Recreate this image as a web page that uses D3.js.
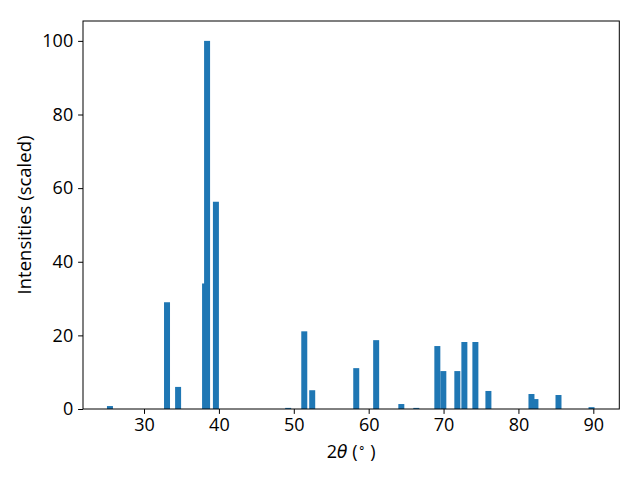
<!DOCTYPE html>
<html>
<head>
<meta charset="utf-8">
<script src="https://cdn.jsdelivr.net/npm/d3@7"></script>
<style>
  html, body { margin: 0; padding: 0; background: #fff; }
  svg { display: block; }
  text { font-family: "Open Sans", sans-serif; }
</style>
</head>
<body>
<svg id="chart" width="640" height="480"></svg>
<script>
// Peak positions (2θ, degrees) and scaled intensities
const twoTheta = [25.45, 33.07, 34.55, 38.15, 38.42, 39.6, 49.25, 51.4, 52.46, 58.34, 61.0, 64.36, 66.36, 69.17, 69.97, 71.84, 72.78, 74.25, 75.99, 81.74, 82.27, 85.35, 89.76];
const intensity = [0.8, 29.0, 6.0, 34.1, 100, 56.3, 0.3, 21.1, 5.1, 11.1, 18.7, 1.35, 0.3, 17.1, 10.3, 10.3, 18.2, 18.2, 4.9, 4.07, 2.7, 3.8, 0.5];
const xTicks = [30, 40, 50, 60, 70, 80, 90];
const yTicks = [0, 20, 40, 60, 80, 100];

const barWidth = 0.8;
const margin = { left: 83, right: 640 - 619.3, top: 21, bottom: 480 - 409 };
const W = 640, H = 480;
const svg = d3.select("#chart");

const x = d3.scaleLinear().domain([21.85, 93.47]).range([margin.left, W - margin.right]);
const y = d3.scaleLinear().domain([0, 105.4]).range([H - margin.bottom, margin.top]);

const data = twoTheta.map((t, i) => ({ t, v: intensity[i] }));

svg.append("g").selectAll("rect").data(data).enter().append("rect")
  .attr("x", d => x(d.t - barWidth / 2))
  .attr("width", d => x(d.t + barWidth / 2) - x(d.t - barWidth / 2))
  .attr("y", d => y(d.v))
  .attr("height", d => y(0) - y(d.v))
  .attr("fill", "#1f77b4");

const fontSize = 18;
const xAxis = svg.append("g").attr("transform", `translate(0,${H - margin.bottom})`)
  .call(d3.axisBottom(x).tickValues(xTicks).tickSize(4.9).tickPadding(4.5).tickFormat(d3.format("d")));
const yAxis = svg.append("g").attr("transform", `translate(${margin.left},0)`)
  .call(d3.axisLeft(y).tickValues(yTicks).tickSize(4.9).tickPadding(4.9).tickFormat(d3.format("d")));

[xAxis, yAxis].forEach(a => {
  a.select(".domain").remove();
  a.selectAll("line").attr("stroke", "#000").attr("stroke-width", 1);
  a.selectAll("text").attr("font-family", "Open Sans, sans-serif").attr("font-size", fontSize).attr("fill", "#000");
});

// frame
svg.append("rect")
  .attr("x", margin.left).attr("y", margin.top)
  .attr("width", W - margin.right - margin.left)
  .attr("height", H - margin.bottom - margin.top)
  .attr("fill", "none").attr("stroke", "#000").attr("stroke-width", 1);

// axis labels
const xl = svg.append("text")
  .attr("x", (margin.left + W - margin.right) / 2).attr("y", 458)
  .attr("text-anchor", "middle").attr("font-size", fontSize).attr("fill", "#000");
xl.append("tspan").text("2");
xl.append("tspan").attr("font-style", "italic").attr("font-family", "DejaVu Sans, sans-serif").attr("font-size", 17).text("θ");
xl.append("tspan").text(" (");
xl.append("tspan").attr("font-size", 12).attr("dy", -6).text("∘");
xl.append("tspan").attr("dy", 6).text(" )");

svg.append("text")
  .attr("transform", `translate(31,${(margin.top + H - margin.bottom) / 2}) rotate(-90)`)
  .attr("text-anchor", "middle").attr("font-size", 18.5).attr("fill", "#000")
  .text("Intensities (scaled)");
</script>
</body>
</html>
